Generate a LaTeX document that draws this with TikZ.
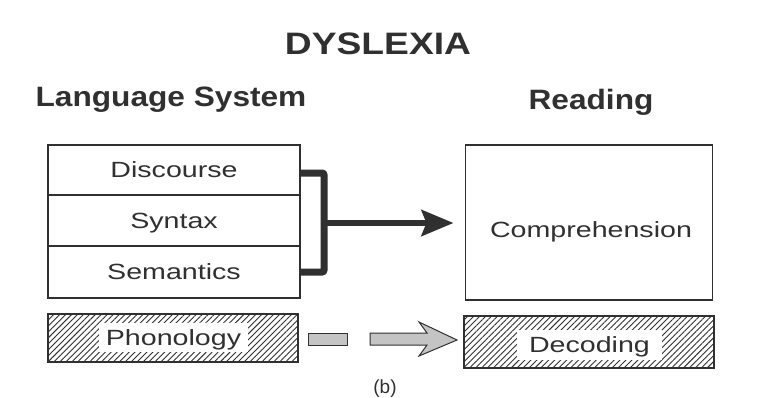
\documentclass[tikz,border=0pt]{standalone}
\usepackage{fontspec}
\setmainfont{Liberation Sans}
\newfontfamily\bodyfont{Liberation Sans}[FakeStretch=1.3]
\newfontfamily\titlefont{Liberation Sans}[FakeStretch=1.2]
\newfontfamily\headfont{Liberation Sans}[FakeStretch=1.13]
\usetikzlibrary{arrows.meta,patterns.meta,calc}
\definecolor{ink}{HTML}{303030}
\definecolor{grayfill}{HTML}{C4C4C4}
\tikzset{
  bodytext/.style={font=\bodyfont\fontsize{22}{26}\selectfont,text=ink},
  layer/.style={bodytext,draw=ink,line width=1.5pt,minimum width=252pt,inner sep=0pt,outer sep=0pt,text height=15.8pt,text depth=0pt},
  hatchbox/.style={draw=ink,line width=1.5pt,minimum width=250pt,inner sep=0pt,outer sep=0pt,
    pattern={Lines[angle=45,distance=4.2pt,line width=0.9pt]},pattern color=ink},
  hatchlabel/.style={bodytext,fill=white,inner sep=0pt,text height=15.8pt,text depth=0pt},
  header/.style={font=\headfont\bfseries\fontsize{28}{32}\selectfont,text=ink,anchor=base},
  bracket/.style={draw=ink,line width=7pt,rounded corners=2pt},
  grayarrow/.style={draw=ink,line width=1pt,fill=grayfill,line join=miter}
}
\begin{document}
\begin{tikzpicture}[x=1pt,y=-1pt]
\useasboundingbox (0,0) rectangle (783,398);
\fill[white] (0,0) rectangle (783,398);
\node[font=\titlefont\bfseries\fontsize{31}{35}\selectfont,text=ink,anchor=base] (title) at (378,55) {DYSLEXIA};
\node[header] (lang) at (171,107) {Language System};
\node[header] (read) at (591,110) {Reading};
\node[layer,minimum height=50pt] (disc) at (174,170) {Discourse};
\node[layer,minimum height=51pt] (syn) at (174,220.5) {Syntax};
\node[layer,minimum height=52pt] (sem) at (174,272) {Semantics};
\node[draw=ink,line width=1.5pt,minimum width=247pt,minimum height=155pt,inner sep=0pt,outer sep=0pt] (comp) at (589,222.5) {};
\node[bodytext,anchor=base] (complabel) at (591,237) {Comprehension};
\node[hatchbox,minimum height=48pt] (phon) at (173,338) {};
\node[hatchlabel,minimum width=149pt,minimum height=29pt] (phonlabel) at (173.5,337.5) {Phonology};
\node[hatchbox,minimum height=52pt] (dec) at (589,342) {};
\node[hatchlabel,minimum width=145pt,minimum height=30pt] (declabel) at (589.5,344.5) {Decoding};
\node[font=\fontsize{19}{22}\selectfont\rmfamily,text=ink] (cap) at (385,389) {(b)};
% bracket and arrow
\coordinate (bt) at ($(disc.east)+(0,3)$);
\coordinate (bb) at ($(sem.east)+(0,0)$);
\draw[bracket] (bt) -- ++(24,0) |- (bb);
\draw[draw=ink,line width=6pt,-{Stealth[length=32pt,width=26pt,inset=5pt]}] ($(syn.east)+(24,2.5)$) -- ($(comp.west)+(-12,0.5)$);
% gray dashed arrow
\coordinate (ga) at ($(phon.east)+(10,1)$);
\filldraw[grayarrow] ($(ga)+(0,-6)$) rectangle ($(ga)+(39,6)$);
\coordinate (gb) at ($(ga)+(62,0)$);
\filldraw[grayarrow] ($(gb)+(0,-6)$) -- ($(gb)+(57,-6)$) -- ($(gb)+(49,-17)$) -- ($(dec.west)+(-7,-2)$) -- ($(gb)+(49,17)$) -- ($(gb)+(57,6)$) -- ($(gb)+(0,6)$) -- cycle;
\end{tikzpicture}
\end{document}
